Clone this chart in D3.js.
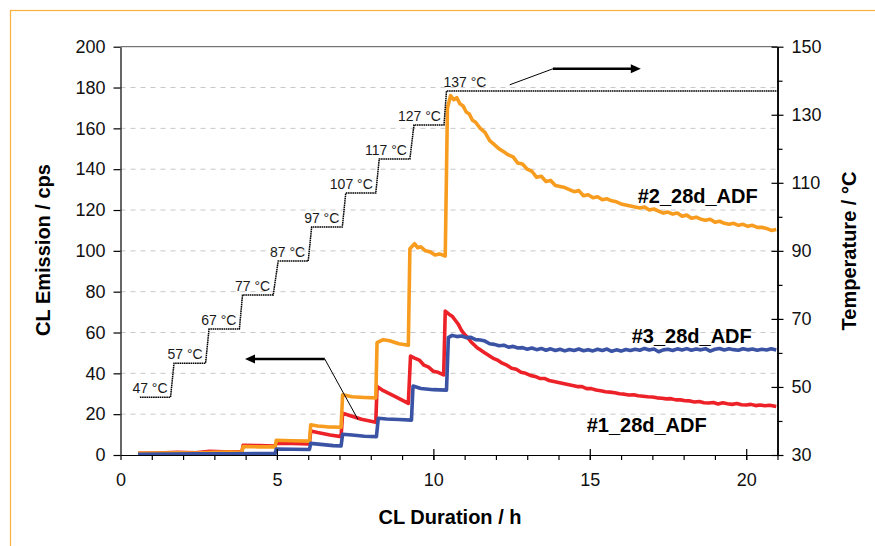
<!DOCTYPE html>
<html><head><meta charset="utf-8">
<script src="https://cdn.jsdelivr.net/npm/d3@7"></script>
<style>
body{margin:0;background:#fff;}
svg{display:block;font-family:"Liberation Sans",Arial,sans-serif;}
</style></head><body>
<svg id="c" width="875" height="546"></svg>
<script>
// ---- data ----
const xTicks = [0,5,10,15,20];
const yTicks = [0,20,40,60,80,100,120,140,160,180,200];
const tTicks = [30,50,70,90,110,130,150];
const series2 = [[0.56,0.8],[1.2,0.9],[1.8,1.1],[2.4,1.0],[3.0,1.3],[3.5,1.4],[3.88,1.3],[3.92,4.2],[4.4,4.0],[4.94,4.0],[4.98,7.2],[5.5,7.0],[6.04,6.8],[6.08,14.8],[6.3,14.2],[6.6,13.8],[7.05,13.6],[7.1,29.5],[7.4,28.5],[7.8,28.2],[8.16,28.0],[8.2,55.0],[8.4,56.5],[8.6,56.0],[8.9,54.5],[9.2,53.8],[9.25,101],[9.4,103.5],[9.5,101.5],[9.6,102],[9.75,100],[9.9,99.5],[10.05,98],[10.2,98.5],[10.38,97.5],
[10.45,170],[10.55,176],[10.65,174],[10.75,175],[10.85,172],[10.95,171],[11.05,168],[11.15,167],[11.25,164],[11.35,163],[11.5,160],[11.65,158],[11.8,154],[11.95,152],[12.1,150],[12.25,148.5],[12.4,147],[12.55,146],[12.7,143],[12.85,142.5],[13.0,140],[13.15,139],[13.3,136],[13.45,136.5],[13.6,134],[13.75,134.5],[13.9,132],[14.05,131.5],[14.2,131],[14.35,130],[14.5,129],[14.65,129.5],[14.8,127],[14.95,127.5],[15.1,126],[15.25,126.5],[15.4,125],[15.55,125.5],[15.7,124.5],[15.85,124],[16.0,123],[16.15,122.5],[16.3,122],[16.45,121.5],[16.6,121],[16.75,121.5],[16.9,120],[17.05,120.5],[17.2,119.5],[17.35,118.5],[17.5,119],[17.65,118],[17.8,118.5],[17.95,117],[18.1,117.5],[18.25,116],[18.4,116.5],[18.55,115.5],[18.7,115],[18.85,115.5],[19.0,114],[19.15,114.5],[19.3,113.5],[19.45,113],[19.6,113.5],[19.75,112.5],[19.9,113],[20.05,112],[20.2,112.5],[20.35,111.5],[20.5,111.5],[20.65,111],[20.8,110],[20.96,110.5]];
const series1 = [[0.56,0.8],[1.2,1.0],[1.8,1.3],[2.4,1.1],[2.85,1.8],[3.3,1.6],[3.88,1.6],[3.92,4.8],[4.4,4.6],[4.94,4.4],[4.98,5.8],[5.5,5.6],[6.04,5.4],[6.08,11.8],[6.3,11.0],[6.7,9.8],[7.05,9.0],[7.1,20.5],[7.3,19.5],[7.7,17.5],[8.16,16.0],[8.2,33.5],[8.4,31.5],[8.8,28.5],[9.2,25.3],[9.27,48.5],[9.4,47.5],[9.55,46.5],[9.7,44],[9.85,43],[10.0,41],[10.15,40.5],[10.33,39.2],
[10.38,70.5],[10.5,69],[10.6,68],[10.7,66],[10.8,64],[10.9,61],[11.0,59],[11.1,57.5],[11.2,55.5],[11.3,54],[11.4,52.5],[11.5,51.5],[11.6,50.5],[11.75,49],[11.9,47.5],[12.05,46.5],[12.2,45],[12.35,44],[12.5,42.5],[12.65,42],[12.8,40.5],[12.95,40],[13.1,39],[13.25,38.5],[13.4,37.5],[13.55,37.5],[13.7,36.5],[13.85,36],[14.0,35.5],[14.15,35],[14.3,34.5],[14.45,34],[14.6,33.5],[14.75,33.5],[14.9,32.5],[15.05,32.5],[15.2,31.8],[15.35,31.5],[15.5,31],[15.65,30.8],[15.8,30.5],[15.95,30],[16.1,29.8],[16.25,29.4],[16.4,29.5],[16.55,29],[16.7,28.8],[16.85,28.5],[17.0,28.4],[17.15,28],[17.3,27.8],[17.45,27.5],[17.6,27.6],[17.75,27],[17.9,27],[18.05,26.6],[18.2,26.5],[18.35,26],[18.5,26.2],[18.65,25.6],[18.8,25.5],[18.95,25.7],[19.1,25],[19.25,25.6],[19.4,25.1],[19.55,24.8],[19.7,25.2],[19.85,24.6],[20.0,24.5],[20.15,24.8],[20.3,24.2],[20.45,24.5],[20.6,24.1],[20.75,24.4],[20.96,23.8]];
const series3 = [[0.56,0.4],[1.5,0.5],[2.5,0.6],[3.5,0.6],[4.94,0.7],[4.98,2.9],[5.5,2.8],[6.04,2.7],[6.08,5.7],[6.4,5.2],[6.8,4.6],[7.05,4.4],[7.1,10.2],[7.4,9.8],[7.8,9.2],[8.18,9.0],[8.24,18.0],[8.5,17.6],[8.9,17.4],[9.3,17.1],[9.35,33.8],[9.6,32.6],[10.0,32.0],[10.42,31.8],
[10.48,57.5],[10.6,58.6],[10.75,58],[10.9,58.3],[11.05,57.5],[11.2,57.6],[11.35,56.5],[11.5,56.3],[11.65,55.8],[11.8,54.5],[11.95,54.2],[12.1,53.5],[12.25,53.8],[12.4,52.8],[12.55,53.2],[12.7,52.4],[12.85,52.6],[13.0,51.8],[13.15,52.4],[13.3,51.6],[13.45,52.2],[13.6,51.3],[13.75,52],[13.9,51.2],[14.05,51.8],[14.2,51],[14.35,51.7],[14.5,51.2],[14.65,51.9],[14.8,51.1],[14.95,51.6],[15.1,51],[15.25,51.8],[15.4,51.2],[15.55,51.9],[15.7,50.8],[15.85,51.5],[16.0,50.9],[16.15,51.7],[16.3,51.2],[16.45,51.8],[16.6,51.3],[16.75,52.2],[16.9,51.4],[17.05,51.9],[17.2,50.6],[17.35,51.5],[17.5,51.8],[17.65,51.2],[17.8,52],[17.95,51.4],[18.1,52.1],[18.25,51.3],[18.4,51.9],[18.55,51.5],[18.7,52.1],[18.85,50.9],[19.0,51.8],[19.15,52.2],[19.3,51.4],[19.45,52],[19.6,51.6],[19.75,51.3],[19.9,52],[20.05,51.5],[20.2,51.9],[20.35,51.3],[20.5,51.8],[20.65,51.4],[20.8,52],[20.96,51.4]];
const tempSteps = [[0.62,47],[1.6,47],[1.71,57],[2.72,57],[2.83,67],[3.8,67],[3.9,77],[4.88,77],[5.04,87],[6.0,87],[6.11,97],[7.09,97],[7.2,107],[8.16,107],[8.27,117],[9.25,117],[9.38,127],[10.34,127],[10.42,137],[21,137]];
const tempLabels = ["47 °C","57 °C","67 °C","77 °C","87 °C","97 °C","107 °C","117 °C","127 °C","137 °C"];
const seriesNames = ["#1_28d_ADF","#2_28d_ADF","#3_28d_ADF"];
const seriesColors = ["#ED2228","#F89C20","#3A53A4"];

// ---- layout ----
const svg = d3.select("#c");
const X0=120.5, X1=777.5, Y0=455, Y1=46.7;
const x = d3.scaleLinear().domain([0,21]).range([X0,X1]);
const y = d3.scaleLinear().domain([0,200]).range([Y0,Y1]);
const yT = d3.scaleLinear().domain([30,150]).range([Y0,Y1]);

// frame
svg.append("rect").attr("x",10.5).attr("y",10.5).attr("width",900).attr("height",600)
  .attr("fill","none").attr("stroke","#FBB040").attr("stroke-width",1.2);

// grid
svg.append("g").selectAll("line").data(yTicks.filter(d=>d>0&&d<200)).join("line")
  .attr("x1",X0).attr("x2",X1).attr("y1",d=>y(d)).attr("y2",d=>y(d))
  .attr("stroke","#c8c8c8").attr("stroke-width",1).attr("stroke-dasharray","5,5");
svg.append("line").attr("x1",X0).attr("x2",X1).attr("y1",Y1).attr("y2",Y1).attr("stroke","#555").attr("stroke-width",1);

// series
const line = d3.line().x(d=>x(d[0])).y(d=>y(d[1]));
const order = [series1, series2, series3];
[0,1,2].forEach(i=>{
  svg.append("path").datum(order[i]).attr("d",line).attr("fill","none")
    .attr("stroke",seriesColors[i]).attr("stroke-width",3.6).attr("stroke-linejoin","round");
});

// temperature steps
const tline = d3.line().x(d=>x(d[0])).y(d=>yT(d[1]));
svg.append("path").datum(tempSteps).attr("d",tline).attr("fill","none")
  .attr("stroke","#000").attr("stroke-width",1.5).attr("stroke-dasharray","1.6,0.6");
const tl = svg.append("g").attr("font-size",14).attr("fill","#1a1a1a");
tempLabels.forEach((t,i)=>{
  const endPt = tempSteps[2*i+1], startPt = tempSteps[2*i];
  if(i<9){
    tl.append("text").attr("x",x(endPt[0])-3).attr("y",yT(endPt[1])-4).attr("text-anchor","end").text(t);
  } else {
    tl.append("text").attr("x",x(startPt[0])-3).attr("y",yT(startPt[1])-4).attr("text-anchor","start").text(t);
  }
});

// axes
const fs = 18;
svg.append("g").attr("transform",`translate(${X0},0)`)
  .call(d3.axisLeft(y).tickValues(yTicks).tickSize(7).tickPadding(8).tickSizeOuter(0));
svg.append("g").attr("transform",`translate(0,${Y0})`)
  .call(d3.axisBottom(x).tickValues(xTicks).tickSize(5).tickPadding(13).tickSizeOuter(0));
svg.append("g").attr("transform",`translate(0,${Y0})`)
  .call(d3.axisBottom(x).tickValues(d3.range(1,22)).tickSize(5).tickFormat("").tickSizeOuter(0));
svg.append("g").attr("transform",`translate(0,${Y0})`)
  .call(d3.axisTop(x).tickValues(xTicks.slice(1)).tickSize(6).tickFormat("").tickSizeOuter(0));
svg.append("g").attr("transform",`translate(${X1},0)`)
  .call(d3.axisRight(yT).tickValues(tTicks).tickSize(6).tickPadding(8).tickSizeOuter(0));
svg.append("g").attr("transform",`translate(${X1},0)`)
  .call(d3.axisLeft(yT).tickValues(tTicks).tickSize(6).tickFormat("").tickSizeOuter(0));
svg.append("g").attr("transform",`translate(${X1},0)`)
  .call(d3.axisRight(yT).tickValues(d3.range(40,150,20)).tickSize(5).tickFormat("").tickSizeOuter(0));
svg.selectAll(".domain").attr("stroke","#000").attr("stroke-width",1.2);
svg.selectAll(".tick line").attr("stroke","#000").attr("stroke-width",1.2);
svg.selectAll(".tick text").attr("font-size",fs).attr("font-family","Liberation Sans, Arial, sans-serif").attr("fill","#111");

// arrows
const ah = (x0,y0,dir)=>{
  const L=10,H=4.5;
  return `M${x0},${y0} L${x0-dir*L},${y0-H} L${x0-dir*L},${y0+H} Z`;
};
svg.append("line").attr("x1",x(6.53)).attr("y1",y(47)).attr("x2",x(3.98)+8).attr("y2",y(47)).attr("stroke","#000").attr("stroke-width",2.5);
svg.append("path").attr("d",ah(x(3.98),y(47),-1)).attr("fill","#000");
svg.append("line").attr("x1",x(6.53)).attr("y1",y(47)).attr("x2",x(7.59)).attr("y2",y(17.4)).attr("stroke","#000").attr("stroke-width",1);
svg.append("line").attr("x1",x(12.44)).attr("y1",yT(138.8)).attr("x2",x(13.82)).attr("y2",yT(143.5)).attr("stroke","#000").attr("stroke-width",1);
svg.append("line").attr("x1",x(13.82)).attr("y1",yT(143.5)).attr("x2",x(16.63)-8).attr("y2",yT(143.5)).attr("stroke","#000").attr("stroke-width",2.5);
svg.append("path").attr("d",ah(x(16.63),yT(143.5),1)).attr("fill","#000");

// series labels
const lab = svg.append("g").attr("font-size",20).attr("font-weight","bold").attr("fill","#000");
lab.append("text").attr("x",x(16.53)).attr("y",y(123.6)).text(seriesNames[1]);
lab.append("text").attr("x",x(16.34)).attr("y",y(54.7)).text(seriesNames[2]);
lab.append("text").attr("x",x(14.9)).attr("y",y(11.4)).text(seriesNames[0]);

// titles
svg.append("text").attr("transform","translate(50,250) rotate(-90)").attr("text-anchor","middle")
  .attr("font-size",20).attr("font-weight","bold").text("CL Emission / cps");
svg.append("text").attr("transform","translate(856,251) rotate(-90)").attr("text-anchor","middle")
  .attr("font-size",20).attr("font-weight","bold").text("Temperature / °C");
svg.append("text").attr("x",450).attr("y",524).attr("text-anchor","middle")
  .attr("font-size",20).attr("font-weight","bold").text("CL Duration / h");
</script></body></html>
